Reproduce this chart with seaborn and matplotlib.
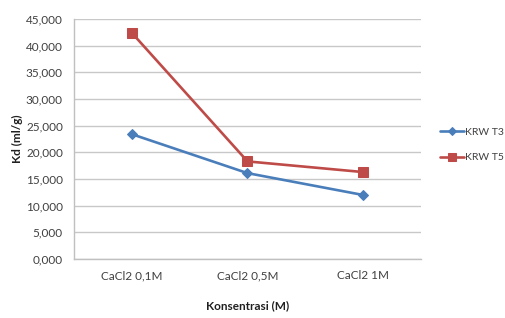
import matplotlib
matplotlib.use("Agg")
import matplotlib.pyplot as plt
import seaborn as sns
import pandas as pd

categories = ["CaCl2 0,1M", "CaCl2 0,5M", "CaCl2 1M"]
krw_t3 = [23400, 16100, 12000]
krw_t5 = [42400, 18300, 16300]
series_names = ["KRW T3", "KRW T5"]
y_ticks = [0, 5000, 10000, 15000, 20000, 25000, 30000, 35000, 40000, 45000]
y_tick_labels = ["0,000", "5,000", "10,000", "15,000", "20,000", "25,000",
                 "30,000", "35,000", "40,000", "45,000"]

df = pd.DataFrame({
    "cat": categories * 2,
    "x": list(range(len(categories))) * 2,
    "val": krw_t3 + krw_t5,
    "series": [series_names[0]] * 3 + [series_names[1]] * 3,
})

sns.set_theme(style="white")
plt.rcParams["font.family"] = ["Lato", "DejaVu Sans"]

fig = plt.figure(figsize=(5.06, 3.18), dpi=100)
ax = fig.add_axes([74 / 506, 1 - 259 / 318, (421 - 74) / 506, (259 - 19) / 318])

palette = {"KRW T3": "#4A7EBB", "KRW T5": "#BE4B48"}
markers = {"KRW T3": "D", "KRW T5": "s"}
sizes = {"KRW T3": 5.5, "KRW T5": 7}
for name in series_names:
    sub = df[df["series"] == name]
    sns.lineplot(data=sub, x="x", y="val", ax=ax, color=palette[name],
                 marker=markers[name], markersize=sizes[name], linewidth=1.9,
                 markeredgecolor=palette[name], label=name)

ax.set_xlim(-0.5, len(categories) - 0.5)
ax.set_ylim(0, 45000)
ax.set_yticks(y_ticks)
ax.set_yticklabels(y_tick_labels, fontsize=8.5, color="#404040")
ax.set_xticks(range(len(categories)))
ax.set_xticklabels(categories, fontsize=8.5, color="#404040")
ax.tick_params(axis="both", length=0, pad=8)
ax.yaxis.grid(True, color="#c8c8c8", linewidth=1)
ax.xaxis.grid(False)
for s in ["top", "right"]:
    ax.spines[s].set_visible(False)
for s in ["left", "bottom"]:
    ax.spines[s].set_color("#c0c0c0")
    ax.spines[s].set_linewidth(1)

ax.set_ylabel("Kd (ml/g)", fontsize=8.5, fontweight="bold", color="#202020", labelpad=2)
ax.set_xlabel("Konsentrasi (M)", fontsize=8.5, fontweight="bold", color="#202020", labelpad=14)

leg = ax.legend(loc="center left", bbox_to_anchor=(1.055, 0.475), frameon=False,
                fontsize=7.5, handlelength=2.3, handletextpad=0.1, labelspacing=1.55,
                borderaxespad=0.0, borderpad=0.0, markerscale=0.8)
for t in leg.get_texts():
    t.set_color("#404040")

fig.savefig("out.png", dpi=100)
